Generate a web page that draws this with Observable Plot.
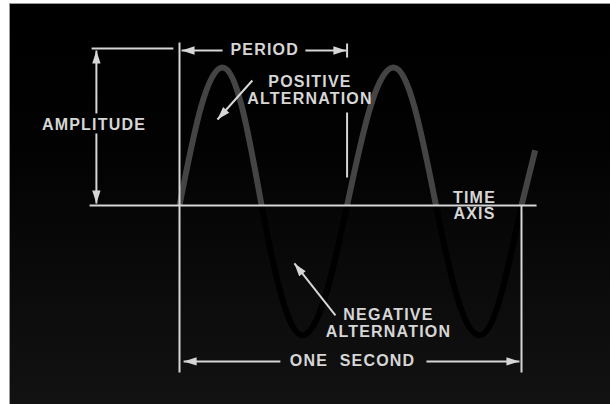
<!DOCTYPE html>
<html><head><meta charset="utf-8">
<script src="https://cdn.jsdelivr.net/npm/d3@7"></script>
<script src="https://cdn.jsdelivr.net/npm/@observablehq/plot@0.6"></script>
<style>
html,body{margin:0;padding:0;background:#fff;width:610px;height:404px;overflow:hidden}
#panel{position:absolute;left:9px;top:3px;width:600px;height:400px;border-left:1px solid #9a9a9a;border-top:1px solid #9a9a9a;background:linear-gradient(#000 0%,#020202 35%,#121212 100%)}
#panel svg{display:block}
#panel svg text{letter-spacing:1.2px;word-spacing:6px}
</style></head><body><div id="panel"></div>
<script>
// Sine wave: time (s) and relative amplitude
const time = [0, 0.0625, 0.125, 0.183, 0.24, 0.3, 0.36, 0.425, 0.49, 0.5575, 0.625, 0.6875, 0.75, 0.8125, 0.875, 0.9375, 1, 1.04];
const amplitude = [0, 0.71, 1, 0.71, 0, -0.67, -0.94, -0.67, 0, 0.71, 1, 0.71, 0, -0.67, -0.94, -0.67, 0, 0.4];
const labels = ["PERIOD", "AMPLITUDE", "POSITIVE\nALTERNATION", "NEGATIVE\nALTERNATION", "TIME\nAXIS", "ONE SECOND"];

const rows = time.map((t, i) => ({t, v: amplitude[i], half: Math.floor((t + 0.1) / 0.5)}));
const positive = rows.filter(d => d.v >= 0);

const ink = "#d6d6d6";
const font = {fontFamily: "'Liberation Sans', Arial, sans-serif", fontSize: 16, fontWeight: "bold", fill: ink, stroke: null};

// annotation segments (data units)
const segs = [
  {x1: -0.263, y1: 0, x2: 1.044, y2: 0},
  {x1: 0, y1: 1.181, x2: 0, y2: -1.21},
  {x1: 1, y1: 0, x2: 1, y2: -1.21},
  {x1: 0.49, y1: 1.174, x2: 0.49, y2: 1.072},
  {x1: 0.49, y1: 0.674, x2: 0.49, y2: 0.203},
  {x1: -0.257, y1: 1.138, x2: -0.018, y2: 1.138}
];
const arrows = [
  {x1: 0.126, y1: 1.123, x2: 0.006, y2: 1.123, a: 270},
  {x1: 0.368, y1: 1.123, x2: 0.488, y2: 1.123, a: 90},
  {x1: -0.243, y1: 0.667, x2: -0.243, y2: 1.123, a: 0},
  {x1: -0.243, y1: 0.522, x2: -0.243, y2: 0.014, a: 180},
  {x1: 0.213, y1: 0.906, x2: 0.111, y2: 0.623, a: 222},
  {x1: 0.456, y1: -0.797, x2: 0.336, y2: -0.42, a: 322},
  {x1: 0.295, y1: -1.13, x2: 0.012, y2: -1.13, a: 270},
  {x1: 0.722, y1: -1.13, x2: 0.994, y2: -1.13, a: 90}
];
// elongated filled arrowhead, tip at origin pointing up
const head = {draw(ctx, size) {
  const L = Math.sqrt(size / Math.PI), w = L * 0.32;
  ctx.moveTo(0, 0); ctx.lineTo(w, L); ctx.lineTo(-w, L); ctx.closePath();
}};

const chart = Plot.plot({
  width: 600, height: 400,
  marginLeft: 169, marginRight: 89, marginTop: 63, marginBottom: 61,
  x: {domain: [0, 1], axis: null},
  y: {domain: [-1, 1], axis: null},
  style: {background: "transparent", overflow: "visible"},
  marks: [
    Plot.line(rows, {x: "t", y: "v", curve: "natural", stroke: "#000", strokeWidth: 6}),
    Plot.line(positive, {x: "t", y: "v", z: "half", curve: "natural", stroke: "#444", strokeWidth: 6, strokeLinecap: "butt"}),
    Plot.link(segs, {x1: "x1", y1: "y1", x2: "x2", y2: "y2", stroke: ink, strokeWidth: 2}),
    Plot.link(arrows, {x1: "x1", y1: "y1", x2: "x2", y2: "y2", stroke: ink, strokeWidth: 2}),
    Plot.dot(arrows, {x: "x2", y: "y2", rotate: "a", symbol: head, r: 13, fill: ink, stroke: null}),
    Plot.text([labels[0]], {x: 0.249, y: 1.127, text: d => d, ...font}),
    Plot.text([labels[1]], {x: -0.25, y: 0.583, text: d => d, ...font}),
    Plot.text([labels[2]], {x: 0.3816, y: 0.84, text: d => d, lineHeight: 1.06, ...font}),
    Plot.text([labels[3]], {x: 0.611, y: -0.853, text: d => d, lineHeight: 1.06, ...font}),
    Plot.text([labels[4]], {x: 0.8626, y: 0, text: d => d, lineHeight: 1.0, ...font}),
    Plot.text([labels[5]], {x: 0.506, y: -1.123, text: d => d, ...font})
  ]
});
document.getElementById("panel").appendChild(chart);
</script></body></html>
